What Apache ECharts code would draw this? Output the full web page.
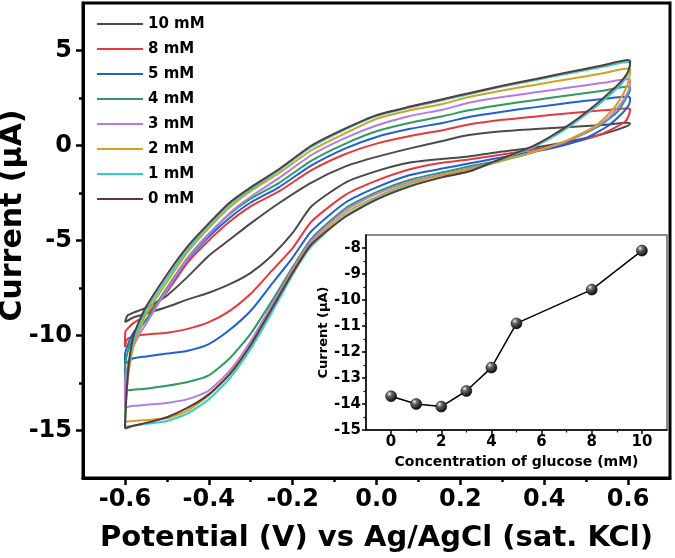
<!DOCTYPE html>
<html><head><meta charset="utf-8">
<script src="https://cdn.jsdelivr.net/npm/echarts@6/dist/echarts.min.js"></script>
<style>html,body{margin:0;padding:0;background:#fff}#c{width:675px;height:558px}</style>
</head><body><div id="c"></div>
<script>
// ---- CV loops (Potential V, Current uA) ----
const seriesNames = ['10 mM','8 mM','5 mM','4 mM','3 mM','2 mM','1 mM','0 mM'];
const seriesColors = ['#4a4a4a','#e8383d','#1f5fd6','#2e9a5e','#b07de8','#d4a020','#2bd0d0','#5e3838'];

const cv10 = [[-0.6,-9.3],[-0.594,-8.95],[-0.58,-8.8],[-0.55,-8.55],[-0.5,-7.9],[-0.45,-6.9],[-0.4,-5.8],[-0.35,-4.95],[-0.3,-4.1],[-0.233,-3.04],[-0.155,-1.95],[-0.074,-1.1],[0,-0.6],[0.08,-0.15],[0.16,0.25],[0.22,0.55],[0.3,0.75],[0.38,0.87],[0.46,0.97],[0.54,1.08],[0.6,1.2],
  [0.605,1.15],[0.583,0.9],[0.536,0.58],[0.457,0.2],[0.378,-0.1],[0.3,-0.32],[0.22,-0.58],
  [0.16,-0.7],[0.08,-0.9],[0,-1.35],[-0.074,-1.95],[-0.155,-3.2],[-0.2,-4.6],[-0.25,-5.8],[-0.3,-6.7],[-0.35,-7.3],[-0.4,-7.75],[-0.45,-8.1],[-0.5,-8.5],[-0.55,-8.85],[-0.58,-9.05],[-0.6,-9.3]];
const cv8 = [[-0.6,-10.6],[-0.599,-9.8],[-0.592,-9.6],[-0.58,-9.35],[-0.565,-9.15],[-0.55,-8.9],[-0.5,-7.7],[-0.45,-6.15],[-0.4,-5.0],[-0.35,-4.0],[-0.3,-3.2],[-0.233,-2.42],[-0.155,-1.3],[-0.074,-0.45],[0,0.1],[0.08,0.5],[0.16,0.82],[0.22,1.1],[0.3,1.35],[0.38,1.53],[0.46,1.7],[0.54,1.85],[0.6,1.95],
  [0.605,1.9],[0.6,1.5],[0.593,1.26],[0.56,0.84],[0.52,0.47],[0.457,0.1],[0.378,-0.2],[0.3,-0.47],[0.22,-0.74],
  [0.16,-0.9],[0.08,-1.25],[0,-1.85],[-0.074,-2.6],[-0.155,-4.0],[-0.2,-5.4],[-0.25,-6.6],[-0.3,-7.8],[-0.35,-8.7],[-0.4,-9.3],[-0.45,-9.65],[-0.5,-9.85],[-0.55,-9.95],[-0.58,-10.05],[-0.595,-10.2],[-0.6,-10.6]];
const cv5 = [[-0.6,-11.5],[-0.6,-11.0],[-0.595,-10.6],[-0.588,-10.2],[-0.578,-9.8],[-0.565,-9.5],[-0.55,-9.2],[-0.5,-7.6],[-0.45,-6.0],[-0.4,-4.8],[-0.35,-3.8],[-0.3,-3.0],[-0.233,-2.2],[-0.155,-1.05],[-0.074,-0.15],[0,0.45],[0.08,0.88],[0.16,1.2],[0.22,1.5],[0.3,1.78],[0.38,2.02],[0.46,2.25],[0.54,2.45],[0.6,2.58],
  [0.605,2.5],[0.602,2.15],[0.583,1.63],[0.55,1.0],[0.497,0.37],[0.417,-0.15],[0.338,-0.47],[0.28,-0.7],[0.22,-0.95],
  [0.16,-1.2],[0.08,-1.55],[0,-2.2],[-0.074,-3.0],[-0.155,-4.5],[-0.2,-5.9],[-0.25,-7.3],[-0.3,-8.7],[-0.35,-9.7],[-0.4,-10.45],[-0.45,-10.8],[-0.5,-10.95],[-0.55,-11.1],[-0.58,-11.2],[-0.6,-11.5]];
const cv4 = [[-0.6,-12.9],[-0.6,-11.7],[-0.597,-11.2],[-0.59,-10.6],[-0.58,-10.1],[-0.567,-9.7],[-0.55,-9.2],[-0.5,-7.5],[-0.45,-5.9],[-0.4,-4.65],[-0.35,-3.6],[-0.3,-2.8],[-0.233,-1.98],[-0.155,-0.8],[-0.074,0.1],[0,0.75],[0.08,1.2],[0.16,1.55],[0.22,1.85],[0.3,2.15],[0.38,2.4],[0.46,2.65],[0.54,2.88],[0.6,3.1],
  [0.605,3.05],[0.603,2.8],[0.595,2.47],[0.576,1.8],[0.536,1.1],[0.48,0.47],[0.417,-0.05],[0.338,-0.58],[0.28,-0.85],[0.22,-1.1],
  [0.16,-1.4],[0.08,-1.8],[0,-2.45],[-0.074,-3.3],[-0.155,-4.9],[-0.2,-6.4],[-0.25,-8.2],[-0.3,-9.9],[-0.35,-11.2],[-0.4,-12.1],[-0.45,-12.45],[-0.5,-12.65],[-0.55,-12.8],[-0.58,-12.85],[-0.6,-12.9]];
const cv3 = [[-0.6,-13.8],[-0.6,-12.6],[-0.597,-12.0],[-0.59,-11.3],[-0.58,-10.6],[-0.567,-10.0],[-0.55,-9.4],[-0.5,-7.6],[-0.45,-5.95],[-0.4,-4.7],[-0.35,-3.55],[-0.3,-2.7],[-0.233,-1.72],[-0.155,-0.5],[-0.074,0.4],[0,1.05],[0.08,1.55],[0.16,1.9],[0.22,2.25],[0.3,2.55],[0.38,2.8],[0.46,3.05],[0.54,3.3],[0.6,3.5],
  [0.605,3.45],[0.603,3.0],[0.595,2.6],[0.583,2.2],[0.552,1.42],[0.505,0.74],[0.44,0.1],[0.36,-0.42],[0.3,-0.8],[0.22,-1.2],
  [0.16,-1.5],[0.08,-1.9],[0,-2.55],[-0.074,-3.4],[-0.155,-5.0],[-0.2,-6.5],[-0.25,-8.4],[-0.3,-10.3],[-0.35,-11.85],[-0.4,-12.9],[-0.45,-13.35],[-0.5,-13.55],[-0.55,-13.65],[-0.58,-13.7],[-0.6,-13.8]];
const cv2 = [[-0.6,-14.55],[-0.599,-14.0],[-0.597,-13.3],[-0.592,-12.1],[-0.585,-11.1],[-0.575,-10.2],[-0.563,-9.6],[-0.55,-8.9],[-0.5,-7.2],[-0.45,-5.6],[-0.4,-4.35],[-0.35,-3.25],[-0.3,-2.4],[-0.233,-1.46],[-0.155,-0.25],[-0.074,0.65],[0,1.4],[0.08,1.85],[0.16,2.2],[0.22,2.55],[0.3,2.9],[0.38,3.2],[0.46,3.5],[0.54,3.8],[0.6,4.05],
  [0.605,4.0],[0.603,3.6],[0.595,3.0],[0.58,2.4],[0.56,1.8],[0.52,1.0],[0.457,0.3],[0.378,-0.32],[0.3,-0.8],[0.22,-1.26],
  [0.16,-1.55],[0.08,-2.0],[0,-2.7],[-0.074,-3.55],[-0.155,-5.15],[-0.2,-6.6],[-0.25,-8.6],[-0.3,-10.5],[-0.35,-12.0],[-0.4,-13.15],[-0.45,-13.95],[-0.5,-14.35],[-0.55,-14.45],[-0.58,-14.5],[-0.6,-14.55]];
const cv1 = [[-0.6,-14.8],[-0.598,-13.7],[-0.594,-12.3],[-0.587,-11.1],[-0.577,-10.1],[-0.564,-9.4],[-0.55,-8.7],[-0.5,-7.0],[-0.45,-5.45],[-0.4,-4.2],[-0.35,-3.1],[-0.3,-2.3],[-0.233,-1.32],[-0.155,-0.08],[-0.074,0.85],[0,1.55],[0.08,2.0],[0.16,2.4],[0.22,2.7],[0.3,3.1],[0.38,3.45],[0.46,3.8],[0.54,4.15],[0.6,4.4],
  [0.605,4.35],[0.602,3.95],[0.593,3.5],[0.578,3.1],[0.558,2.7],[0.538,2.3],[0.503,1.7],[0.463,1.05],[0.42,0.45],[0.382,0.0],[0.34,-0.38],[0.28,-0.88],[0.22,-1.37],
  [0.16,-1.65],[0.08,-2.1],[0,-2.8],[-0.074,-3.7],[-0.155,-5.3],[-0.2,-6.8],[-0.25,-8.8],[-0.3,-10.7],[-0.35,-12.25],[-0.4,-13.35],[-0.45,-14.1],[-0.5,-14.5],[-0.55,-14.65],[-0.58,-14.75],[-0.6,-14.8]];
const cv0 = [[-0.6,-14.9],[-0.598,-13.8],[-0.594,-12.3],[-0.588,-11.0],[-0.578,-9.9],[-0.565,-9.2],[-0.55,-8.5],[-0.5,-6.8],[-0.45,-5.3],[-0.4,-4.1],[-0.35,-3.0],[-0.3,-2.2],[-0.233,-1.25],[-0.155,0.0],[-0.074,0.9],[0,1.6],[0.08,2.05],[0.16,2.45],[0.22,2.75],[0.3,3.15],[0.38,3.5],[0.46,3.87],[0.54,4.22],[0.6,4.5],
  [0.605,4.45],[0.602,4.0],[0.592,3.6],[0.576,3.2],[0.556,2.8],[0.536,2.4],[0.5,1.75],[0.46,1.1],[0.417,0.5],[0.38,0.05],[0.338,-0.35],[0.28,-0.85],[0.22,-1.37],
  [0.16,-1.65],[0.08,-2.15],[0,-2.85],[-0.074,-3.75],[-0.155,-5.2],[-0.2,-6.7],[-0.25,-8.6],[-0.3,-10.5],[-0.35,-12.05],[-0.4,-13.1],[-0.45,-13.8],[-0.5,-14.3],[-0.55,-14.6],[-0.58,-14.75],[-0.6,-14.9]];
const cvData = [cv10, cv8, cv5, cv4, cv3, cv2, cv1, cv0];

// main axes ticks
const xMajor = [-0.6,-0.4,-0.2,0.0,0.2,0.4,0.6];
const xMinor = [-0.5,-0.3,-0.1,0.1,0.3,0.5];
const yMajor = [-15,-10,-5,0,5];
const yMinor = [-12.5,-7.5,-2.5,2.5];

// ---- inset: peak current vs glucose concentration ----
const glucose = [0,1,2,3,4,5,8,10];
const peakCurrent = [-13.7,-14.0,-14.1,-13.5,-12.6,-10.9,-9.6,-8.1];
const insetXMajor = [0,2,4,6,8,10];
const insetXMinor = [1,3,5,7,9];
const insetYMajor = [-15,-14,-13,-12,-11,-10,-9,-8];
const insetYMinor = [-14.5,-13.5,-12.5,-11.5,-10.5,-9.5,-8.5];

const FF = 'DejaVu Sans';
const chart = echarts.init(document.getElementById('c'), null, {renderer:'canvas'});

function xFmt(v){ return Math.abs(v) < 1e-9 ? '0.0' : v.toFixed(1); }

const series = cvData.map((d,i)=>({
  type:'line', name: seriesNames[i], xAxisIndex:0, yAxisIndex:0, data:d,
  showSymbol:false, smooth:0.2, lineStyle:{width:2, color:seriesColors[i]},
  itemStyle:{color:seriesColors[i]}, z: 2+i, animation:false
}));
series.push({
  type:'line', xAxisIndex:2, yAxisIndex:2, data: glucose.map((g,i)=>[g,peakCurrent[i]]),
  symbol:'circle', symbolSize:11, lineStyle:{color:'#000', width:1.5},
  itemStyle:{color: new echarts.graphic.RadialGradient(0.35,0.3,0.75,[{offset:0,color:'#f0f0f0'},{offset:0.3,color:'#666'},{offset:1,color:'#000'}]), borderColor:'#000', borderWidth:0.5},
  z: 20, animation:false
});

const axisLbl = {fontFamily:FF, fontWeight:'bold', color:'#000'};
const noZero = {onZero:false};

chart.setOption({
  animation:false,
  backgroundColor:'#fff',
  legend:{
    data: seriesNames, orient:'vertical', left:92, top:10, icon:'rect',
    itemWidth:46, itemHeight:2.2, itemGap:7,
    textStyle:{fontFamily:FF, fontWeight:'bold', fontSize:15, color:'#000', lineHeight:18}
  },
  grid:[
    {left:83, top:3, right:5, bottom:80, show:true, borderColor:'#000', borderWidth:3, backgroundColor:'transparent', outerBoundsMode:'none', containLabel:false},
    {left:366, top:235, right:8, bottom:128, show:true, borderColor:'#666', borderWidth:1.5, backgroundColor:'#fff', z:10, outerBoundsMode:'none', containLabel:false}
  ],
  xAxis:[
    {gridIndex:0, type:'value', min:-0.7, max:0.7, interval:0.1,
     axisLine:{...noZero, lineStyle:{color:'#000', width:3}}, splitLine:{show:false},
     axisTick:{customValues:xMajor, length:7, lineStyle:{width:2.5, color:'#000'}},
     axisLabel:{customValues:xMajor, ...axisLbl, fontSize:24, margin:10, formatter:xFmt},
     name:'Potential (V) vs Ag/AgCl (sat. KCl)', nameLocation:'middle', nameGap:46, nameMoveOverlap:false,
     nameTextStyle:{fontFamily:FF, fontWeight:'bold', fontSize:29, color:'#000'}},
    {gridIndex:0, type:'value', min:-0.7, max:0.7, interval:0.1, position:'bottom',
     axisLine:{show:false, onZero:false}, splitLine:{show:false}, axisLabel:{show:false},
     axisTick:{customValues:xMinor, length:4, lineStyle:{width:2.5, color:'#000'}}},
    {gridIndex:1, type:'value', min:-1, max:11, interval:1, z:11,
     axisLine:{...noZero, lineStyle:{color:'#000', width:1.5}}, splitLine:{show:false},
     axisTick:{customValues:insetXMajor, length:4, lineStyle:{width:1.5, color:'#000'}},
     axisLabel:{customValues:insetXMajor, ...axisLbl, fontSize:15, margin:5},
     name:'Concentration of glucose (mM)', nameLocation:'middle', nameGap:25, nameMoveOverlap:false,
     nameTextStyle:{fontFamily:FF, fontWeight:'bold', fontSize:14, color:'#000'}},
    {gridIndex:1, type:'value', min:-1, max:11, interval:1, position:'bottom', z:11,
     axisLine:{show:false, onZero:false}, splitLine:{show:false}, axisLabel:{show:false},
     axisTick:{customValues:insetXMinor, length:2.5, lineStyle:{width:1.2, color:'#000'}}}
  ],
  yAxis:[
    {gridIndex:0, type:'value', min:-17.5, max:7.5, interval:2.5,
     axisLine:{...noZero, lineStyle:{color:'#000', width:3}}, splitLine:{show:false},
     axisTick:{customValues:yMajor, length:7, lineStyle:{width:2.5, color:'#000'}},
     axisLabel:{customValues:yMajor, ...axisLbl, fontSize:24, margin:11},
     name:'Current (μA)', nameLocation:'middle', nameGap:55, nameMoveOverlap:false,
     nameTextStyle:{fontFamily:FF, fontWeight:'bold', fontSize:30, color:'#000', padding:[0,0,0,50]}},
    {gridIndex:0, type:'value', min:-17.5, max:7.5, interval:2.5, position:'left',
     axisLine:{show:false, onZero:false}, splitLine:{show:false}, axisLabel:{show:false},
     axisTick:{customValues:yMinor, length:4, lineStyle:{width:2.5, color:'#000'}}},
    {gridIndex:1, type:'value', min:-15, max:-7.5, interval:0.5, z:11,
     axisLine:{...noZero, lineStyle:{color:'#000', width:1.5}}, splitLine:{show:false},
     axisTick:{customValues:insetYMajor, length:4, lineStyle:{width:1.5, color:'#000'}},
     axisLabel:{customValues:insetYMajor, ...axisLbl, fontSize:15, margin:5},
     name:'Current (μA)', nameLocation:'middle', nameGap:36, nameMoveOverlap:false,
     nameTextStyle:{fontFamily:FF, fontWeight:'bold', fontSize:13, color:'#000'}},
    {gridIndex:1, type:'value', min:-15, max:-7.5, interval:0.5, position:'left', z:11,
     axisLine:{show:false, onZero:false}, splitLine:{show:false}, axisLabel:{show:false},
     axisTick:{customValues:insetYMinor, length:2.5, lineStyle:{width:1.2, color:'#000'}}}
  ],
  series: series
});
</script></body></html>
